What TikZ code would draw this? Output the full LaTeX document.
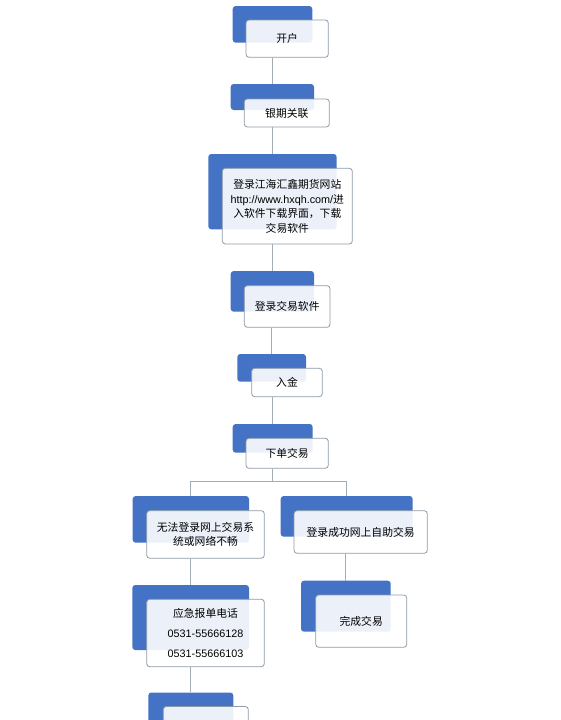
\documentclass[tikz,border=0pt]{standalone}
\usepackage{fontspec}
\setmainfont{Liberation Sans}
\newfontfamily\cjk{Noto Sans CJK SC}
\usetikzlibrary{positioning}

\definecolor{boxblue}{HTML}{4472C4}
\definecolor{boxline}{HTML}{8E9BA8}
\definecolor{linkgray}{HTML}{A3ADB6}

\begin{document}
\begin{tikzpicture}[x=1pt,y=-1pt,
        back/.style={rectangle,rounded corners=3pt,fill=boxblue,inner sep=0pt},
        front/.style={rectangle,rounded corners=3pt,draw=boxline,line width=0.8pt,fill=white,fill opacity=0.9,text opacity=1,inner sep=0pt,align=center,font=\fontsize{10.8}{14.5}\selectfont},
        link/.style={draw=linkgray,line width=0.9pt}]
        
        \useasboundingbox (0,0) rectangle (561,720);
        \clip (0,0) rectangle (561,720);
        
        % main column
        \node[back,minimum width=79.6pt,minimum height=36.7pt] (b1) at (272.5,24.35) {};
        \node[front,minimum width=82.3pt,minimum height=37.3pt] (w1) at (287.15,38.65) {\cjk 开户};
        
        \node[back,minimum width=83.3pt,minimum height=26pt] (b2) at (272.35,97) {};
        \node[front,minimum width=85pt,minimum height=28pt] (w2) at (286.8,113) {\cjk 银期关联};
        
        \node[back,minimum width=128.4pt,minimum height=75.3pt] (b3) at (272.5,191.65) {};
        \node[front,minimum width=130pt,minimum height=75.7pt] (w3) at (287.3,206.15) {{\cjk 登录江海汇鑫期货网站}\\http://www.hxqh.com/{\cjk 进}\\{\cjk 入软件下载界面，下载}\\{\cjk 交易软件}};
        
        \node[back,minimum width=83.3pt,minimum height=40.7pt] (b4) at (272.35,291.35) {};
        \node[front,minimum width=85.7pt,minimum height=41.6pt] (w4) at (287.15,306.5) {\cjk 登录交易软件};
        
        \node[back,minimum width=68.7pt,minimum height=27.7pt] (b5) at (271.65,367.85) {};
        \node[front,minimum width=70.6pt,minimum height=28.4pt] (w5) at (287,382.5) {\cjk 入金};
        
        \node[back,minimum width=80pt,minimum height=28.7pt] (b6) at (272.7,438.35) {};
        \node[front,minimum width=82.3pt,minimum height=30pt] (w6) at (287.15,453.3) {\cjk 下单交易};
        
        % left branch
        \node[back,minimum width=116.3pt,minimum height=46.7pt] (b7) at (190.85,519.35) {};
        \node[front,minimum width=117.6pt,minimum height=47.6pt] (w7) at (205.5,534.5) {{\cjk 无法登录网上交易系}\\{\cjk 统或网络不畅}};
        
        \node[back,minimum width=116.7pt,minimum height=65pt] (b9) at (190.65,617.5) {};
        \node[front,minimum width=117.6pt,minimum height=67.4pt,font=\fontsize{10.8}{20}\selectfont] (w9) at (205.5,633) {{\cjk 应急报单电话}\\0531-55666128\\0531-55666103};
        
        \node[back,minimum width=85pt,minimum height=55pt] (b11) at (190.8,720) {};
        \node[front,minimum width=85pt,minimum height=57pt] (w11) at (205.8,735) {};
        
        % right branch
        \node[back,minimum width=132pt,minimum height=40.7pt] (b8) at (346.7,516.35) {};
        \node[front,minimum width=133.3pt,minimum height=42.6pt] (w8) at (360.65,532) {\cjk 登录成功网上自助交易};
        
        \node[back,minimum width=89.7pt,minimum height=51pt] (b10) at (345.85,606.2) {};
        \node[front,minimum width=91pt,minimum height=52.3pt] (w10) at (361.2,621.15) {\cjk 完成交易};
        
        % connectors
        \draw[link] (w1.south -| b2.north) -- (b2.north);
        \draw[link] (w2.south -| b3.north) -- (b3.north);
        \draw[link] (w3.south -| b4.north) -- (b4.north);
        \draw[link] (w4.south -| b5.north) -- (b5.north);
        \draw[link] (w5.south -| b6.north) -- (b6.north);
        
        \coordinate (split) at (272.7,481.7);
        \draw[link] (w6.south -| b6.center) -- (split);
        \draw[link] (b7.north) |- (split) -| (b8.north);
        
        \draw[link] (w7.south -| b9.north) -- (b9.north);
        \draw[link] (w9.south -| b11.north) -- (b11.north);
        \draw[link] (w8.south -| b10.north) -- (b10.north);
        
\end{tikzpicture}
\end{document}
